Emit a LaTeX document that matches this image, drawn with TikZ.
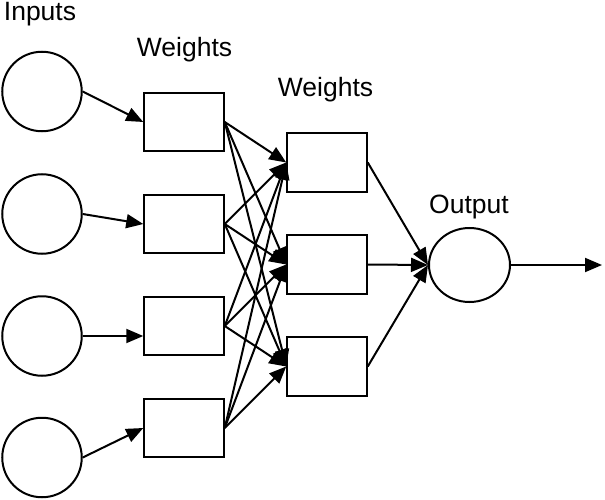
\documentclass[tikz,border=0pt]{standalone}
\usepackage{fontspec}
\setmainfont{Liberation Sans}
\usepackage{tikz}
\usetikzlibrary{
  positioning,
  shapes.geometric,
  arrows.meta
}

\begin{document}
\begin{tikzpicture}[x=1pt,y=-1pt,line width=2pt,>={Triangle[length=17pt,width=14pt]},
    neuron/.style={draw,circle,minimum size=79.5pt,inner sep=0pt},
    weightbox/.style={draw,rectangle,minimum width=79.5pt,minimum height=58.5pt,inner sep=0pt},
    outneuron/.style={draw,ellipse,minimum width=81pt,minimum height=74pt,inner sep=0pt},
    layerlabel/.style={anchor=base,inner sep=0pt,font=\fontsize{26.5}{30}\selectfont}]
                \useasboundingbox (0,0) rectangle (605,500);
                % inputs
                \node[neuron] (in1) at (42,91.5) {};
                \node[neuron] (in2) at (42,214) {};
                \node[neuron] (in3) at (42,336) {};
                \node[neuron] (in4) at (42,457.5) {};
                % first weights
                \node[weightbox] (wa1) at (184,122) {};
                \node[weightbox] (wa2) at (184,224) {};
                \node[weightbox] (wa3) at (184,326) {};
                \node[weightbox] (wa4) at (184,428) {};
                % second weights
                \node[weightbox] (wb1) at (327,162.5) {};
                \node[weightbox] (wb2) at (327,264.5) {};
                \node[weightbox] (wb3) at (327,366.5) {};
                % output
                \node[outneuron] (out) at (469.5,265) {};
                \coordinate (end) at (602,265);
                % labels
                \node[layerlabel] (inlabel) at (40,21) {Inputs};
                \node[layerlabel] (walabel) at (184.5,57) {Weights};
                \node[layerlabel] (wblabel) at (325.5,97) {Weights};
                \node[layerlabel] (outlabel) at (469,213) {Output};
                % connectors
                \draw[->] (in1.east) -- (wa1.west);
                \draw[->] (in2.east) -- (wa2.west);
                \draw[->] (in3.east) -- (wa3.west |- in3.east);
                \draw[->] (in4.east) -- (wa4.west);
                \draw[->] (wa1.east) -- (wb1.west);
                \draw[->] (wa1.east) -- (wb2.west);
                \draw[->] (wa1.east) -- (wb3.west);
                \draw[->] (wa2.east) -- (wb1.west);
                \draw[->] (wa2.east) -- (wb2.west);
                \draw[->] (wa2.east) -- (wb3.west);
                \draw[->] (wa3.east) -- (wb1.west);
                \draw[->] (wa3.east) -- (wb2.west);
                \draw[->] (wa3.east) -- (wb3.west);
                \draw[->] (wa4.east) -- (wb1.west);
                \draw[->] (wa4.east) -- (wb2.west);
                \draw[->] (wa4.east) -- (wb3.west);
                \draw[->] (wb1.east) -- (out.west);
                \draw[->] (wb2.east) -- (out.west);
                \draw[->] (wb3.east) -- (out.west);
                \draw[->] (out.east) -- (end);
            \end{tikzpicture}
\end{document}
